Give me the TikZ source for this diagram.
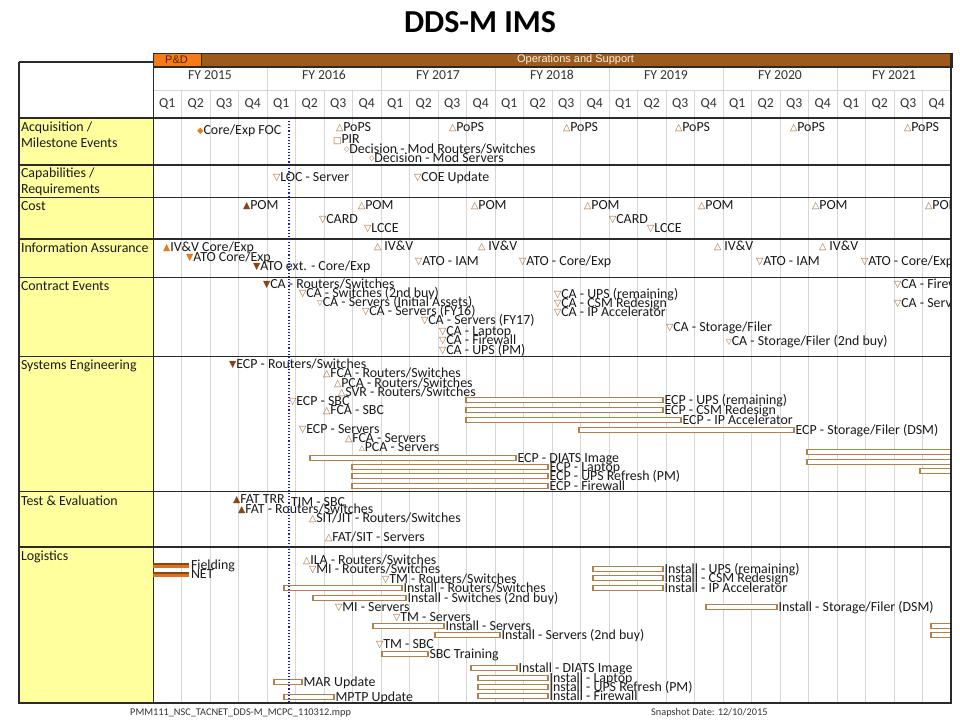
\documentclass[tikz,border=0pt]{standalone}
\usepackage{fontspec}
\setmainfont{Carlito}
\newfontfamily\dvs{DejaVu Sans}
\newfontfamily\arl{Liberation Sans}
\definecolor{mk}{HTML}{A4642A}
\definecolor{mkd}{HTML}{8B4513}
\definecolor{mko}{HTML}{E87A1C}
\definecolor{barc}{HTML}{B48049}
\definecolor{gridc}{HTML}{D6D6D6}
\definecolor{ylw}{HTML}{FFFF9E}
\definecolor{txt}{HTML}{1A1A1A}
\definecolor{opsc}{HTML}{9C5B1D}
\definecolor{pdc}{HTML}{F47B16}
\definecolor{hdr}{HTML}{333333}
\definecolor{framec}{HTML}{2A2A2A}
\definecolor{fldd}{HTML}{8B4513}
\definecolor{fldo}{HTML}{E0701A}
\definecolor{statc}{HTML}{1A1AD0}

\newcommand\glyph[4]{\raisebox{#4pt}{\dvs\fontsize{#2}{#2}\selectfont\color{#1}#3}}
\newcommand\mUp{\glyph{mk}{9.5}{△}{0.6}}
\newcommand\mDn{\glyph{mk}{9.5}{▽}{0.6}}
\newcommand\mUpS{\glyph{mk}{7.5}{△}{1.3}}
\newcommand\mDnS{\glyph{mk}{7.5}{▽}{1.3}}
\newcommand\mUpF{\glyph{mkd}{9.5}{▲}{0.6}}
\newcommand\mDnF{\glyph{mkd}{9.5}{▼}{0.6}}
\newcommand\mUpO{\glyph{mko}{9.5}{▲}{0.6}}
\newcommand\mDnO{\glyph{mko}{9.5}{▼}{0.6}}
\newcommand\mDiaF{\glyph{mko}{8.5}{◆}{1.0}}
\newcommand\mDia{\glyph{mk}{7}{◇}{1.7}}
\newcommand\mSq{\glyph{mk}{9}{□}{0.4}}

\tikzset{
  lbl/.style={anchor=base west, inner sep=0pt, outer sep=0pt,
    font=\fontsize{13.9}{14}\selectfont, text=txt, yshift=-4.5pt},
  hd/.style={anchor=base, inner sep=0pt, outer sep=0pt,
    font=\fontsize{13.7}{14}\selectfont, text=hdr, yshift=-4.4pt},
  barbox/.style={draw=barc, line width=1.4pt, fill=white},
  gridline/.style={draw=gridc, line width=0.8pt},
  rowline/.style={draw=framec, line width=1.3pt},
  foot/.style={anchor=base west, inner sep=0pt, font=\fontsize{10.3}{11}\selectfont, text=hdr, yshift=-3.5pt}
}
\newcommand\ms[5]{\node[lbl] (#3) at (#1-4,#2) {#4#5};}
\newcommand\gb[5]{\draw[barbox] (#1,#3-2.4) rectangle (#2,#3+2.4); \node[lbl] (#4) at (#2+1.5,#3) {#5};}

\begin{document}
\begin{tikzpicture}[x=1pt,y=-1pt]
\useasboundingbox (0,0) rectangle (960,720);
\fill[white] (0,0) rectangle (960,720);

% title
\node[font=\bfseries\fontsize{32}{34}\selectfont, text=black, inner sep=0pt] (title) at (480,22) {DDS-M IMS};

% phase bar
\fill[pdc] (153,53) rectangle (201,67);
\fill[opsc] (201,53) rectangle (952,67);
\draw[framec, line width=0.8pt] (153,53) rectangle (952,67);
\draw[framec, line width=0.8pt] (201,53) -- (201,67);
\node[font=\arl\fontsize{11}{11}\selectfont, text=black!70!pdc, inner sep=0pt] (pd) at (176.5,60) {P\&D};
\node[font=\arl\fontsize{11}{11}\selectfont, text=white!88!orange, inner sep=0pt] (ops) at (575.5,60) {Operations and Support};

% left column
\fill[white] (19,62) rectangle (153,118);
\fill[ylw] (19,118) rectangle (153,703);

% grid
\draw[gridline] (153,90) -- (951,90);
\foreach \k in {1,...,6} \draw[gridline] ({153+114*\k},67) -- ({153+114*\k},90);
\foreach \k in {1,...,27} \draw[gridline] ({153+28.5*\k},90) -- ({153+28.5*\k},703);

% header labels
\foreach \f [evaluate=\f as \yr using int(2015+\f)] in {0,...,6}
  \node[hd] (fy\f) at ({210+114*\f},75) {FY \yr};
\foreach \f in {0,...,6}
  \foreach \q in {1,...,4}
    \node[hd] (q\f\q) at ({153+114*\f+28.5*(\q-1)+14.25},103) {Q\q};

% frame and row lines
\draw[rowline] (19,62) -- (153,62);
\draw[rowline] (153,67) -- (951,67);
\draw[rowline] (19,62) -- (19,703) -- (951,703) -- (951,53);
\draw[framec, line width=0.8pt] (153,62) -- (153,703);
\foreach \yy in {118,165,197.5,239,277.5,356.5,491.5,547}
  \draw[rowline] (19,\yy) -- (951,\yy);

% row labels
\node[lbl] (rAcq1) at (21,127) {Acquisition /};
\node[lbl] (rAcq2) at (21,143) {Milestone Events};
\node[lbl] (rCap1) at (21,173) {Capabilities /};
\node[lbl] (rCap2) at (21,189) {Requirements};
\node[lbl] (rCost) at (21,206) {Cost};
\node[lbl] (rIA) at (21,248) {Information Assurance};
\node[lbl] (rCE) at (21,286) {Contract Events};
\node[lbl] (rSE) at (21,365) {Systems Engineering};
\node[lbl] (rTE) at (21,500.5) {Test \& Evaluation};
\node[lbl] (rLog) at (21,556) {Logistics};

\begin{scope}
\clip (153,118) rectangle (951,703);
% Acquisition
\ms{201}{130}{foc}{\mDiaF}{Core/Exp FOC}
\ms{340}{127}{pops1}{\mUp}{PoPS}
\ms{453}{127}{pops2}{\mUp}{PoPS}
\ms{567}{127}{pops3}{\mUp}{PoPS}
\ms{679}{127}{pops4}{\mUp}{PoPS}
\ms{794}{127}{pops5}{\mUp}{PoPS}
\ms{908}{127}{pops6}{\mUp}{PoPS}
\ms{337}{139}{pir}{\mSq}{PIR}
\ms{348}{149}{decrs}{\mDia}{Decision - Mod Routers/Switches}
\ms{373}{158}{decsv}{\mDia}{Decision - Mod Servers}
% Capabilities
\ms{277}{177}{loc}{\mDn}{LOC - Server}
\ms{418}{177}{coe}{\mDn}{COE Update}
% Cost
\ms{247}{205}{pom0}{\mUpF}{POM}
\ms{362}{205}{pom1}{\mUp}{POM}
\ms{475}{205}{pom2}{\mUp}{POM}
\ms{588}{205}{pom3}{\mUp}{POM}
\ms{702}{205}{pom4}{\mUp}{POM}
\ms{816}{205}{pom5}{\mUp}{POM}
\ms{929}{205}{pom6}{\mUp}{POM}
\ms{323}{219}{card1}{\mDn}{CARD}
\ms{613}{219}{card2}{\mDn}{CARD}
\ms{368}{228}{lcce1}{\mDn}{LCCE}
\ms{651}{228}{lcce2}{\mDn}{LCCE}
% Information Assurance
\ms{167}{247}{ivvce}{\mUpO}{IV\&V Core/Exp}
\ms{190}{257}{atoce}{\mDnO}{ATO Core/Exp}
\ms{257}{266}{atoext}{\mDnF}{ATO ext. - Core/Exp}
\ms{378}{246}{ivv1}{\mUp}{\ IV\&V}
\ms{482}{246}{ivv2}{\mUp}{\ IV\&V}
\ms{718}{246}{ivv3}{\mUp}{\ IV\&V}
\ms{823}{246}{ivv4}{\mUp}{\ IV\&V}
\ms{419}{261}{atoiam1}{\mDn}{ATO - IAM}
\ms{760}{261}{atoiam2}{\mDn}{ATO - IAM}
\ms{523}{261}{atoce1}{\mDn}{ATO - Core/Exp}
\ms{865}{261}{atoce2}{\mDn}{ATO - Core/Exp}
% Contract Events
\ms{267}{284}{cars}{\mDnF}{CA - Routers/Switches}
\ms{303}{293}{casw2}{\mDn}{CA - Switches (2nd buy)}
\ms{321}{302}{casvia}{\mDnS}{CA - Servers (Initial Assets)}
\ms{366}{311}{casv16}{\mDn}{CA - Servers (FY16)}
\ms{425}{320}{casv17}{\mDn}{CA - Servers (FY17)}
\ms{443}{331}{calap}{\mDn}{CA - Laptop}
\ms{443}{340}{cafw}{\mDn}{CA - Firewall}
\ms{443}{350}{caups}{\mDn}{CA - UPS (PM)}
\ms{558}{294}{caupsr}{\mDn}{CA - UPS (remaining)}
\ms{558}{303}{cacsm}{\mDn}{CA - CSM Redesign}
\ms{558}{312}{caip}{\mDn}{CA - IP Accelerator}
\ms{670}{327}{cast}{\mDn}{CA - Storage/Filer}
\ms{730}{341}{cast2}{\mDnS}{CA - Storage/Filer (2nd buy)}
\ms{898}{284}{cafw2}{\mDn}{CA - Firewall}
\ms{898}{303}{casv2}{\mDn}{CA - Servers}
% Systems Engineering
\ms{233}{364}{ecprs}{\mDnF}{ECP - Routers/Switches}
\ms{327}{373}{fcars}{\mUp}{FCA - Routers/Switches}
\ms{338}{383}{pcars}{\mUp}{PCA - Routers/Switches}
\ms{342}{392}{svrrs}{\mUp}{SVR - Routers/Switches}
\ms{293}{401}{ecpsbc}{\mDn}{ECP - SBC}
\ms{327}{410}{fcasbc}{\mUp}{FCA - SBC}
\ms{303}{429}{ecpsv}{\mDn}{ECP - Servers}
\ms{349}{438}{fcasv}{\mUp}{FCA - Servers}
\ms{363}{447}{pcasv}{\mUpS}{PCA - Servers}
\gb{466}{663}{400}{ecpups}{ECP - UPS (remaining)}
\gb{466}{663}{410}{ecpcsm}{ECP - CSM Redesign}
\gb{466}{681}{420}{ecpip}{ECP - IP Accelerator}
\gb{579}{794}{430}{ecpst}{ECP - Storage/Filer (DSM)}
\gb{310}{516}{458}{ecpdiats}{ECP - DIATS Image}
\gb{352}{548}{467}{ecplap}{ECP - Laptop}
\gb{352}{548}{476}{ecpupsr}{ECP - UPS Refresh (PM)}
\gb{352}{548}{486}{ecpfw}{ECP - Firewall}
\draw[barbox] (807,452-2.4) rectangle (960,452+2.4);
\draw[barbox] (807,462-2.4) rectangle (960,462+2.4);
\draw[barbox] (920,471-2.4) rectangle (960,471+2.4);
% Test & Evaluation
\ms{237}{499}{fattrr}{\mUpF}{FAT TRR}
\node[lbl] (timsbc) at (291,502) {TIM - SBC};
\ms{242}{509}{fatrs}{\mUpF}{FAT - Routers/Switches}
\ms{313}{518}{sitrs}{\mUp}{SIT/JIT - Routers/Switches}
\ms{329}{537}{fatsv}{\mUp}{FAT/SIT - Servers}
% Logistics
\fill[fldo] (153,562.5) rectangle (189,568);
\fill[fldd] (153,562.5) rectangle (189,565.3);
\node[lbl] (field) at (191,565) {Fielding};
\fill[fldo] (153,571.5) rectangle (189,577);
\fill[fldd] (153,571.5) rectangle (189,574.3);
\node[lbl] (net) at (191,574) {NET};
\ms{307}{560}{ila}{\mUp}{ILA - Routers/Switches}
\ms{313}{569}{mirs}{\mDn}{MI - Routers/Switches}
\ms{386}{579}{tmrs}{\mDn}{TM - Routers/Switches}
\gb{284}{402}{588}{insrs}{Install - Routers/Switches}
\gb{313}{406}{598}{inssw2}{Install - Switches (2nd buy)}
\ms{339}{607}{misv}{\mDn}{MI - Servers}
\ms{397}{617}{tmsv}{\mDn}{TM - Servers}
\gb{373}{444}{626}{inssv}{Install - Servers}
\gb{435}{500}{635}{inssv2}{Install - Servers (2nd buy)}
\ms{380}{644}{tmsbc}{\mDn}{TM - SBC}
\gb{382}{428}{654}{sbctr}{SBC Training}
\gb{471}{517}{668}{insdiats}{Install - DIATS Image}
\gb{478}{548}{678}{inslap}{Install - Laptop}
\gb{478}{548}{687}{insupsr}{Install - UPS Refresh (PM)}
\gb{478}{548}{696}{insfw}{Install - Firewall}
\gb{274}{302}{682}{mar}{MAR Update}
\gb{284}{334}{697}{mptp}{MPTP Update}
\gb{593}{663}{569}{insups}{Install - UPS (remaining)}
\gb{593}{663}{578}{inscsm}{Install - CSM Redesign}
\gb{593}{663}{588}{insip}{Install - IP Accelerator}
\gb{706}{777}{607}{insst}{Install - Storage/Filer (DSM)}
\draw[barbox] (931,626-2.4) rectangle (960,626+2.4);
\draw[barbox] (931,635-2.4) rectangle (960,635+2.4);
% status line
\draw[statc, line width=1.1pt, dotted] (289,118) -- (289,703);
\end{scope}
\draw[rowline] (951,53) -- (951,703);

% footer
\node[foot] (fname) at (130,712) {PMM111\_NSC\_TACNET\_DDS-M\_MCPC\_110312.mpp};
\node[foot] (fdate) at (651,712) {Snapshot Date: 12/10/2015};
\end{tikzpicture}
\end{document}
